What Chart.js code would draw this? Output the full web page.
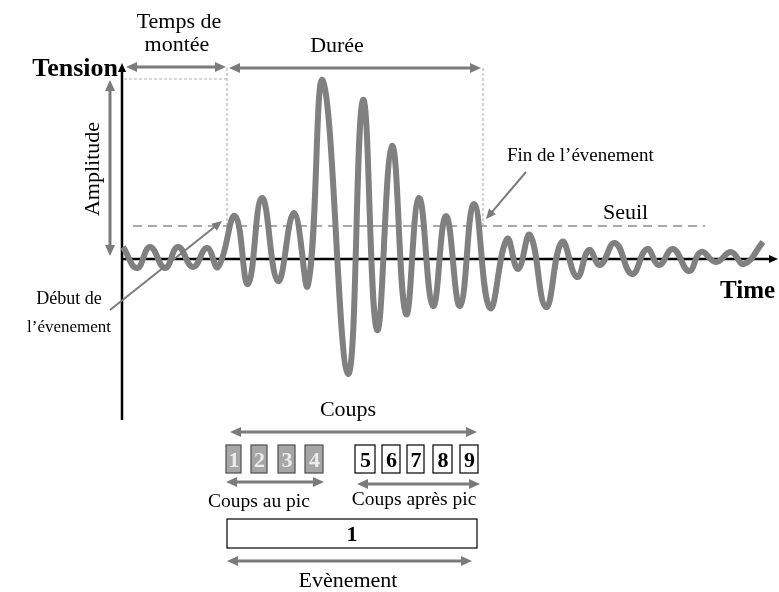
<!DOCTYPE html>
<html>
<head>
<meta charset="utf-8">
<script src="https://cdn.jsdelivr.net/npm/chart.js@4/dist/chart.umd.min.js"></script>
<style>
  html, body { margin: 0; padding: 0; background: #ffffff; }
  #wrap { width: 779px; height: 592px; position: relative; }
</style>
</head>
<body>
<div id="wrap"><canvas id="c" width="779" height="592"></canvas></div>
<script>
// ---- Data (time in µs-like units, tension in mV-like units) ----
const waveTime = [1, 15, 28, 43, 56, 71, 85, 96, 113, 126, 140, 156, 172, 186, 201, 226, 241, 255, 270, 284, 297, 311, 324, 338, 352, 368, 385, 396, 408, 424, 440, 455, 467, 478, 493, 510, 525, 537, 551, 567, 579, 594, 609, 622, 641];
const waveTension = [12, -9, 12, -9, 12, -8, 11, -8, 43, -25, 61, -22, 46, -26, 178, -115, 159, -71, 113, -55, 61, -47, 43, -47, 55, -49, 20, -10, 24, -48, 17, -18, 9, -6, 16, -15, 10, -6, 10, -12, 7, -3, 7, -5, 17];
const thresholdLevel = 33;
const thresholdSpan = [11, 583];
const amplitudeLevel = 180;
const eventStart = 105;
const eventEnd = 361;
const peakCountLabels = ['1', '2', '3', '4'];
const afterPeakCountLabels = ['5', '6', '7', '8', '9'];
const eventLabel = '1';

const SERIF = '"Liberation Serif", "Times New Roman", serif';
const ARROW_GRAY = '#7b7b7b';

function arrowHead(ctx, x1, y1, x2, y2, len, half) {
  const a = Math.atan2(y2 - y1, x2 - x1);
  ctx.beginPath();
  ctx.moveTo(x2, y2);
  ctx.lineTo(x2 - len * Math.cos(a) + half * Math.sin(a), y2 - len * Math.sin(a) - half * Math.cos(a));
  ctx.lineTo(x2 - len * Math.cos(a) - half * Math.sin(a), y2 - len * Math.sin(a) + half * Math.cos(a));
  ctx.closePath();
  ctx.fill();
}
function arrow(ctx, x1, y1, x2, y2, opts) {
  const o = Object.assign({ color: ARROW_GRAY, width: 3, len: 11, half: 5, start: true, end: true }, opts || {});
  ctx.save();
  ctx.strokeStyle = o.color; ctx.fillStyle = o.color; ctx.lineWidth = o.width;
  const a = Math.atan2(y2 - y1, x2 - x1);
  const sx = o.start ? x1 + (o.len - 2) * Math.cos(a) : x1, sy = o.start ? y1 + (o.len - 2) * Math.sin(a) : y1;
  const ex = o.end ? x2 - (o.len - 2) * Math.cos(a) : x2, ey = o.end ? y2 - (o.len - 2) * Math.sin(a) : y2;
  ctx.beginPath(); ctx.moveTo(sx, sy); ctx.lineTo(ex, ey); ctx.stroke();
  if (o.end) arrowHead(ctx, x1, y1, x2, y2, o.len, o.half);
  if (o.start) arrowHead(ctx, x2, y2, x1, y1, o.len, o.half);
  ctx.restore();
}
function text(ctx, s, x, y, size, opts) {
  const o = Object.assign({ align: 'center', bold: false, color: '#000' }, opts || {});
  ctx.save();
  ctx.font = (o.bold ? 'bold ' : '') + size + 'px ' + SERIF;
  ctx.fillStyle = o.color; ctx.textAlign = o.align; ctx.textBaseline = 'alphabetic';
  ctx.fillText(s, x, y);
  ctx.restore();
}

const axesPlugin = {
  id: 'axesPlugin',
  beforeDatasetsDraw(chart) {
    const ctx = chart.ctx, xs = chart.scales.x, ys = chart.scales.y, ca = chart.chartArea;
    const x0 = xs.getPixelForValue(0), y0 = ys.getPixelForValue(0);
    ctx.save();
    ctx.strokeStyle = '#000'; ctx.fillStyle = '#000'; ctx.lineWidth = 2.5;
    // y axis
    ctx.beginPath(); ctx.moveTo(x0, ca.bottom); ctx.lineTo(x0, ca.top + 8); ctx.stroke();
    arrowHead(ctx, x0, ca.bottom, x0, ca.top + 1, 9, 4);
    // x axis
    ctx.beginPath(); ctx.moveTo(x0, y0); ctx.lineTo(ca.right - 8, y0); ctx.stroke();
    arrowHead(ctx, x0, y0, ca.right - 1, y0, 9, 4);
    // thin dashed guides (amplitude level, event start, event end)
    ctx.strokeStyle = '#b3b3b3'; ctx.lineWidth = 1.2; ctx.setLineDash([3, 2]);
    const yA = ys.getPixelForValue(amplitudeLevel), yT = ys.getPixelForValue(thresholdLevel);
    const xS = xs.getPixelForValue(eventStart), xE = xs.getPixelForValue(eventEnd);
    ctx.beginPath(); ctx.moveTo(x0 + 2, yA); ctx.lineTo(xS, yA); ctx.stroke();
    ctx.beginPath(); ctx.moveTo(xS, ca.top + 6); ctx.lineTo(xS, yT); ctx.stroke();
    ctx.beginPath(); ctx.moveTo(xE, ca.top + 6); ctx.lineTo(xE, yT); ctx.stroke();
    ctx.restore();
  },
  afterDatasetsDraw(chart) {
    const ctx = chart.ctx, xs = chart.scales.x, ys = chart.scales.y, ca = chart.chartArea;
    const x0 = xs.getPixelForValue(0), y0 = ys.getPixelForValue(0);
    const xS = xs.getPixelForValue(eventStart), xE = xs.getPixelForValue(eventEnd);
    const yA = ys.getPixelForValue(amplitudeLevel), yT = ys.getPixelForValue(thresholdLevel);

    // top arrows
    arrow(ctx, x0 + 4, ca.top + 5, xS - 1, ca.top + 5);
    arrow(ctx, xS + 2, ca.top + 6, xE - 2, ca.top + 6);
    text(ctx, 'Temps de', 179, 28, 22);
    text(ctx, 'montée', 177, 51, 22);
    text(ctx, 'Durée', 337, 52, 22);

    // axis titles
    text(ctx, 'Tension', 118, 76, 26, { align: 'right', bold: true });
    text(ctx, 'Time', 720, 298, 25, { align: 'left', bold: true });

    // amplitude arrow
    arrow(ctx, x0 - 12, yA + 1, x0 - 12, y0 - 3);
    ctx.save();
    ctx.translate(99, (yA + y0) / 2);
    ctx.rotate(-Math.PI / 2);
    text(ctx, 'Amplitude', 0, 0, 22);
    ctx.restore();

    // event start / end pointers
    arrow(ctx, 110, 310, xS - 5, yT - 5, { start: false, width: 2, len: 10, half: 4.5 });
    text(ctx, 'Début de', 69, 304, 18);
    text(ctx, 'l\u2019évenement', 69, 332, 17);
    arrow(ctx, 526, 172, xE + 3, yT - 7, { start: false, width: 2, len: 10, half: 4.5 });
    text(ctx, 'Fin de l\u2019évenement', 507, 161, 19, { align: 'left' });
    text(ctx, 'Seuil', 603, 219, 22, { align: 'left' });

    // counts diagram
    text(ctx, 'Coups', 348, 416, 22);
    arrow(ctx, 230, 432, 477, 432);
    const grayBoxes = [[226, 241], [251, 267], [278, 295], [305, 323]];
    const whiteBoxes = [[355, 375], [382, 400], [407, 424], [433, 452], [460, 478]];
    ctx.save();
    grayBoxes.forEach((b, i) => {
      ctx.fillStyle = '#a6a6a6'; ctx.fillRect(b[0], 445, b[1] - b[0], 28);
      ctx.strokeStyle = '#4d4d4d'; ctx.lineWidth = 1.2; ctx.strokeRect(b[0], 445, b[1] - b[0], 28);
      text(ctx, peakCountLabels[i], (b[0] + b[1]) / 2 + 0.5, 467, 22, { bold: true, color: '#ececec' });
    });
    whiteBoxes.forEach((b, i) => {
      ctx.fillStyle = '#fff'; ctx.fillRect(b[0], 445, b[1] - b[0], 28);
      ctx.strokeStyle = '#000'; ctx.lineWidth = 1.2; ctx.strokeRect(b[0], 445, b[1] - b[0], 28);
      text(ctx, afterPeakCountLabels[i], (b[0] + b[1]) / 2 + 0.5, 467, 22, { bold: true });
    });
    ctx.restore();
    arrow(ctx, 226, 482, 324, 482);
    arrow(ctx, 357, 484, 480, 484);
    text(ctx, 'Coups au pic', 259, 507, 19.5);
    text(ctx, 'Coups après pic', 414, 505, 19.5);
    ctx.save();
    ctx.strokeStyle = '#000'; ctx.lineWidth = 1.2; ctx.strokeRect(227, 519, 250, 29);
    ctx.restore();
    text(ctx, eventLabel, 352, 541, 22, { bold: true });
    arrow(ctx, 227, 561, 472, 561);
    text(ctx, 'Evènement', 348, 587, 22);
  }
};

const wavePoints = waveTime.map((t, i) => ({ x: t, y: waveTension[i] }));
const thresholdPoints = thresholdSpan.map(t => ({ x: t, y: thresholdLevel }));

new Chart(document.getElementById('c'), {
  type: 'line',
  data: {
    datasets: [
      {
        label: 'Signal',
        data: wavePoints,
        borderColor: '#808080',
        borderWidth: 6,
        pointRadius: 0,
        tension: 0.45,
        fill: false,
        order: 0,
        clip: 20
      },
      {
        label: 'Seuil',
        data: thresholdPoints,
        borderColor: '#a9a9a9',
        borderWidth: 2,
        borderDash: [9, 6],
        pointRadius: 0,
        fill: false,
        order: 1
      }
    ]
  },
  options: {
    responsive: false,
    animation: false,
    events: [],
    layout: { padding: { left: 122, top: 62, right: 0, bottom: 172 } },
    plugins: { legend: { display: false }, tooltip: { enabled: false }, title: { display: false } },
    scales: {
      x: { type: 'linear', min: 0, max: 657, display: false },
      y: { type: 'linear', min: -161, max: 197, display: false }
    }
  },
  plugins: [axesPlugin]
});
</script>
</body>
</html>
